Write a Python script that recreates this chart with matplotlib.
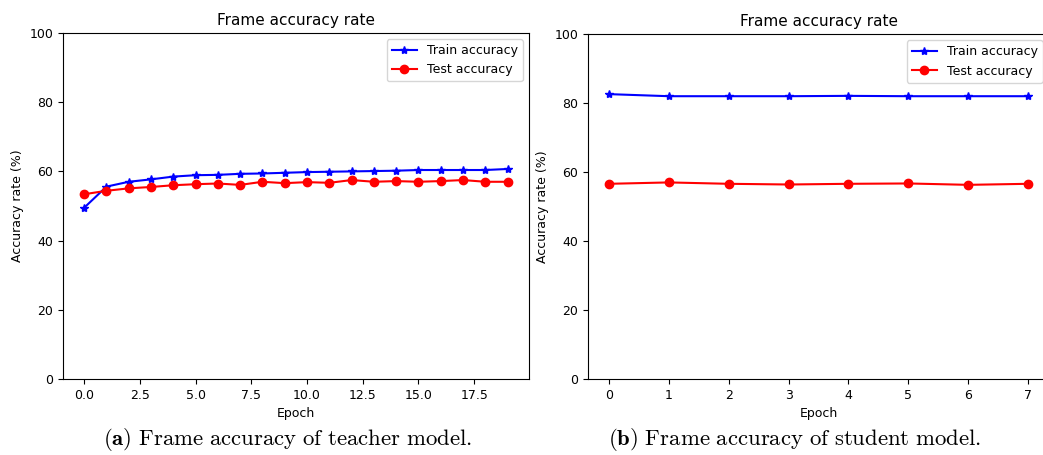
import matplotlib
matplotlib.use("Agg")
import matplotlib.pyplot as plt
import numpy as np

plt.rcParams['mathtext.fontset'] = 'cm'

# teacher model (20 epochs)
teacher_epochs = list(range(20))
teacher_train = [49.5, 55.6, 57.0, 57.7, 58.5, 58.9, 59.0, 59.3, 59.4, 59.6,
                 59.8, 59.9, 60.0, 60.1, 60.2, 60.4, 60.4, 60.4, 60.4, 60.7]
teacher_test = [53.4, 54.4, 55.1, 55.5, 56.0, 56.3, 56.5, 56.1, 57.0, 56.6,
                56.9, 56.7, 57.5, 57.0, 57.2, 57.0, 57.2, 57.5, 57.0, 57.0]

# student model (8 epochs)
student_epochs = list(range(8))
student_train = [82.6, 82.0, 82.0, 82.0, 82.1, 82.0, 82.0, 82.0]
student_test = [56.6, 57.0, 56.6, 56.4, 56.6, 56.7, 56.3, 56.6]

captions = [r'$\mathbf{(a)}\ \mathrm{Frame\ accuracy\ of\ teacher\ model.}$',
            r'$\mathbf{(b)}\ \mathrm{Frame\ accuracy\ of\ student\ model.}$']

fig = plt.figure(figsize=(10.43, 4.55), dpi=100)
ax1 = fig.add_axes([0.0604, 0.167, 0.4466, 0.7605])
ax2 = fig.add_axes([0.5638, 0.167, 0.4420, 0.758])

for ax, ep, tr, te in [(ax1, teacher_epochs, teacher_train, teacher_test),
                       (ax2, student_epochs, student_train, student_test)]:
    ax.plot(ep, tr, 'b-*', label='Train accuracy')
    ax.plot(ep, te, 'r-o', label='Test accuracy')
    ax.set_ylim(0, 100)
    ax.set_title('Frame accuracy rate', fontsize=11)
    ax.set_xlabel('Epoch', fontsize=9)
    ax.set_ylabel('Accuracy rate (%)', fontsize=9)
    ax.tick_params(labelsize=9)
    ax.legend(loc='upper right', fontsize=9)

ax1.set_xticks([0, 2.5, 5, 7.5, 10, 12.5, 15, 17.5])

fig.text(0.276, 0.035, captions[0], fontsize=16.4, ha='center', va='center')
fig.text(0.762, 0.035, captions[1], fontsize=16.4, ha='center', va='center')

fig.savefig('out.png', dpi=100)
